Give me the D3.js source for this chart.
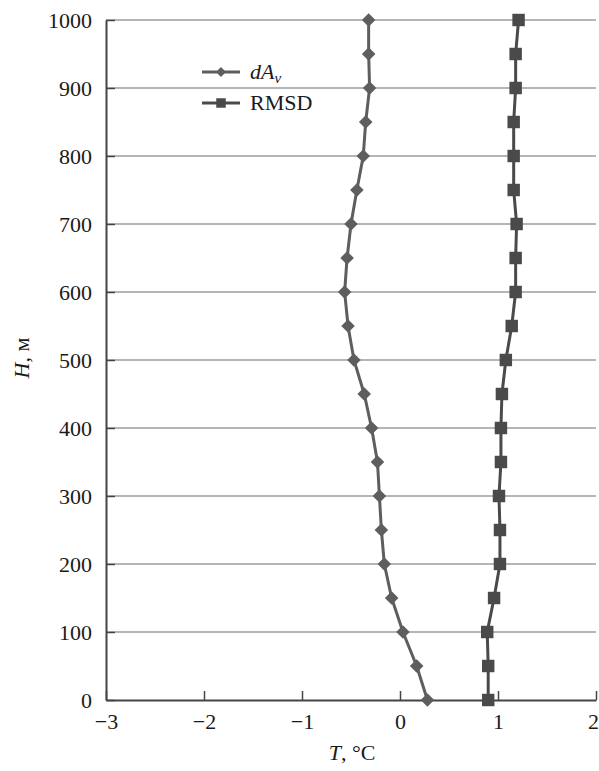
<!DOCTYPE html>
<html>
<head>
<meta charset="utf-8">
<script src="https://cdn.jsdelivr.net/npm/d3@7"></script>
<style>
	body { margin: 0; background: #fff; }
	text { font-family: 'Liberation Serif', 'DejaVu Serif', serif; fill: #1a1a1a; }
</style>
</head>
<body>
<div id="viz"></div>
<script>
// heights, m
const HEIGHTS = [0, 50, 100, 150, 200, 250, 300, 350, 400, 450, 500,
	550, 600, 650, 700, 750, 800, 850, 900, 950, 1000]
// dA_v, °C
const DAV = [0.28, 0.17, 0.03, -0.085, -0.16, -0.19, -0.21, -0.23, -0.29, -0.365, -0.47,
	-0.53, -0.565, -0.54, -0.50, -0.44, -0.375, -0.35, -0.31, -0.32, -0.32]
// RMSD, °C
const RMSD = [0.90, 0.90, 0.89, 0.96, 1.02, 1.02, 1.01, 1.03, 1.03, 1.04, 1.08,
	1.14, 1.18, 1.18, 1.19, 1.16, 1.16, 1.16, 1.18, 1.18, 1.21]
const X_TICKS = [-3, -2, -1, 0, 1, 2]
const Y_TICKS = [0, 100, 200, 300, 400, 500, 600, 700, 800, 900, 1000]

const WIDTH = 599
const HEIGHT = 771
const margin = { left: 106, right: 3, top: 20, bottom: 71 }
const FONT = "'Liberation Serif', 'DejaVu Serif', serif"

const svg = d3.select('#viz')
	.append('svg')
	.attr('width', WIDTH)
	.attr('height', HEIGHT)

const x = d3.scaleLinear()
	.domain([-3, 2])
	.range([margin.left, WIDTH - margin.right])

const y = d3.scaleLinear()
	.domain([0, 1000])
	.range([HEIGHT - margin.bottom, margin.top])

// gridlines
svg.append('g')
	.selectAll('line')
	.data(Y_TICKS.filter((d) => d > 0))
	.enter()
	.append('line')
	.attr('x1', x(-3))
	.attr('x2', x(2))
	.attr('y1', (d) => y(d))
	.attr('y2', (d) => y(d))
	.attr('stroke', '#9c9c9c')
	.attr('stroke-width', 1.3)

// axes
const xAxis = svg.append('g')
	.attr('transform', `translate(0, ${y(0)})`)
	.call(d3.axisBottom(x).tickValues(X_TICKS).tickSizeInner(-9).tickSizeOuter(0)
		.tickFormat((d) => (d < 0 ? '\u2212' + Math.abs(d) : d)))
xAxis.select('.domain').attr('stroke', '#444').attr('stroke-width', 2)
xAxis.selectAll('.tick line').attr('stroke', '#444').attr('stroke-width', 1.5)
xAxis.selectAll('.tick text')
	.attr('y', 13)
	.attr('x', (d) => (d === 2 ? -3 : 0))
	.style('font-size', '22px')
	.style('font-family', FONT)
	.attr('fill', '#1a1a1a')

const yAxis = svg.append('g')
	.attr('transform', `translate(${x(-3)}, 0)`)
	.call(d3.axisLeft(y).tickValues(Y_TICKS).tickSizeInner(-9).tickSizeOuter(0)
		.tickFormat(d3.format('d')))
yAxis.select('.domain').attr('stroke', '#444').attr('stroke-width', 2)
yAxis.selectAll('.tick line').attr('stroke', '#444').attr('stroke-width', 1.5)
yAxis.selectAll('.tick text')
	.attr('x', -14)
	.style('font-size', '22px')
	.style('font-family', FONT)
	.attr('fill', '#1a1a1a')

// axis titles
const xTitle = svg.append('text')
	.attr('x', 352)
	.attr('y', 760)
	.attr('text-anchor', 'middle')
	.style('font-size', '22px')
xTitle.append('tspan').style('font-style', 'italic').text('T')
xTitle.append('tspan').text(', \u00b0C')

const yTitle = svg.append('text')
	.attr('transform', 'translate(29, 358) rotate(-90)')
	.attr('text-anchor', 'middle')
	.style('font-size', '22px')
yTitle.append('tspan').style('font-style', 'italic').text('H')
yTitle.append('tspan').text(', \u043c')

// series
const series = [
	{ name: 'dAv', values: DAV, color: '#5e5e5e', shape: 'diamond' },
	{ name: 'RMSD', values: RMSD, color: '#4a4a4a', shape: 'square' },
]

const line = d3.line()
	.x((d) => x(d[0]))
	.y((d) => y(d[1]))

const diamond = d3.symbol(d3.symbolSquare, 92)
const square = d3.symbol(d3.symbolSquare, 155)

series.forEach((s) => {
	const pts = HEIGHTS.map((h, i) => [s.values[i], h])
	svg.append('path')
		.datum(pts)
		.attr('d', line)
		.attr('fill', 'none')
		.attr('stroke', s.color)
		.attr('stroke-width', 3)

	svg.append('g')
		.selectAll('path')
		.data(pts)
		.enter()
		.append('path')
		.attr('d', s.shape === 'diamond' ? diamond : square)
		.attr('fill', s.color)
		.attr('transform', (d) =>
			`translate(${x(d[0])}, ${y(d[1])})` + (s.shape === 'diamond' ? ' rotate(45)' : ''))
})

// legend
const legend = svg.append('g')
const legendRows = [
	{ s: series[0], yy: 72 },
	{ s: series[1], yy: 103 },
]
legendRows.forEach((r) => {
	legend.append('line')
		.attr('x1', 202).attr('x2', 240)
		.attr('y1', r.yy).attr('y2', r.yy)
		.attr('stroke', r.s.color)
		.attr('stroke-width', 3)
	legend.append('path')
		.attr('d', d3.symbol(d3.symbolSquare, r.s.shape === 'diamond' ? 50 : 90)())
		.attr('fill', r.s.color)
		.attr('transform', `translate(221, ${r.yy})` + (r.s.shape === 'diamond' ? ' rotate(45)' : ''))
})
const t1 = legend.append('text')
	.attr('x', 250).attr('y', 79)
	.style('font-size', '22px')
t1.append('tspan').style('font-style', 'italic').text('dA')
t1.append('tspan').style('font-style', 'italic').style('font-size', '15px').attr('dy', 4).text('v')
legend.append('text')
	.attr('x', 250).attr('y', 110)
	.style('font-size', '22px')
	.text('RMSD')
</script>
</body>
</html>
